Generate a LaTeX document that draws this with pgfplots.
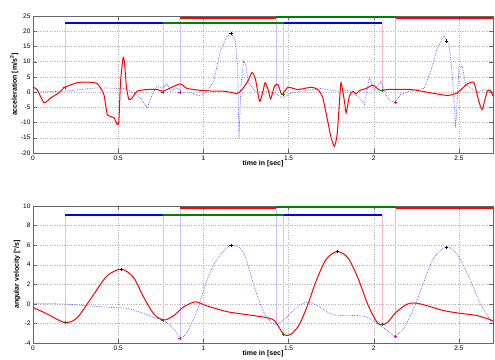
\documentclass[border=0pt]{standalone}
\usepackage{pgfplots}
\pgfplotsset{compat=1.18}
\usepackage{fontspec}
\setmainfont{Liberation Sans}
\definecolor{pinkv}{RGB}{255,180,215}
\definecolor{lavv}{RGB}{205,190,255}
\definecolor{blued}{RGB}{90,90,255}
\definecolor{gr}{RGB}{0,128,0}
\pgfplotsset{
  myax/.style={
    scale only axis, width=460pt, height=137pt,
    xmin=0, xmax=2.7,
    xtick={0,0.5,1,1.5,2,2.5},
    grid=major,
    major grid style={gray!60, dotted},
    axis line style={gray!80!black},
    tick style={gray!80!black},
    tick align=inside,
    ticklabel style={font=\fontsize{6.5}{7}\selectfont},
    /pgf/number format/assume math mode=true,
    xlabel={\textbf{time in [sec]}},
    xlabel style={font=\fontsize{7}{8}\selectfont, yshift=7pt},
    ylabel style={font=\fontsize{7}{8}\selectfont, yshift=-4pt},
    yticklabel style={xshift=1pt},
    xticklabel style={yshift=1pt},
    clip=false,
  },
  redc/.style={red, line width=1pt},
  bluec/.style={blued, densely dotted, line width=0.7pt},
  bar/.style={line width=2pt},
  vl/.style={line width=0.5pt},
}
\begin{document}
\begin{tikzpicture}[x=1pt,y=1pt]
\useasboundingbox (-33,-16) rectangle (462,343);
% ---------- top axis ----------
\begin{axis}[myax, at={(0pt,190pt)}, anchor=south west,
  ymin=-20, ymax=25, ytick={-20,-15,...,25},
  ylabel={\textbf{acceleration [m/s$^{\mathbf{2}}$]}}]
\addplot[vl, pinkv] coordinates {(0.187,1.6)(0.187,22.8)};
\addplot[vl, pinkv] coordinates {(0.762,0)(0.762,22.8)};
\addplot[vl, lavv] coordinates {(0.862,0)(0.862,24.4)};
\addplot[vl, lavv] coordinates {(1.428,0.5)(1.428,24.8)};
\addplot[vl, pinkv] coordinates {(1.471,-0.6)(1.471,22.6)};
\addplot[vl, pinkv] coordinates {(2.048,0.6)(2.048,22.8)};
\addplot[vl, lavv] coordinates {(2.128,-3.3)(2.128,24.4)};
\addplot[bluec] coordinates {(0,0)(0.18,0.3)(0.377,1.4)(0.533,1.2)(0.592,-0.2)(0.631,-1.9)(0.67,-5.2)(0.7,-0.8)(0.729,2)(0.758,1.2)(0.787,2.7)(0.807,0.3)(0.846,1.4)(0.875,0)(0.924,0)(0.973,-1.3)(1.021,0)(1.06,3.6)(1.1,13.5)(1.139,18.4)(1.168,19)(1.187,16.8)(1.201,8)(1.209,-15)(1.221,2.5)(1.236,10.2)(1.25,9)(1.262,3.6)(1.301,0.3)(1.36,0.3)(1.418,-0.25)(1.467,-1.9)(1.516,-0.25)(1.594,0.5)(1.691,1.2)(1.789,0.3)(1.847,0.5)(1.906,-1.3)(1.945,-4)(1.974,4.7)(2.003,0.5)(2.042,3.6)(2.071,-0.8)(2.1,-3)(2.124,-3.3)(2.159,-0.8)(2.218,0.5)(2.296,1.2)(2.335,6.9)(2.374,14.6)(2.413,18.4)(2.442,15.7)(2.461,5.8)(2.481,-11.8)(2.5,8)(2.52,8.5)(2.539,2.5)(2.568,1.4)(2.607,-0.25)(2.646,0.85)(2.7,0)};
\addplot[redc, smooth, tension=0.35] coordinates {(0,1.6)(0.025,0.8)(0.064,-3.5)(0.104,-1.9)(0.152,-0.25)(0.187,1.6)(0.26,3.1)(0.318,3.3)(0.377,2.8)(0.416,-0.8)(0.436,-7.3)(0.475,-8.4)(0.494,-10.6)(0.504,-9.5)(0.514,3.6)(0.529,11.3)(0.537,9.6)(0.549,1.4)(0.563,-2.4)(0.582,-1.9)(0.611,0.3)(0.67,0.85)(0.729,0.85)(0.764,0.3)(0.807,1.4)(0.865,2.7)(0.904,1.2)(0.982,0.6)(1.06,0.3)(1.119,0.3)(1.178,-0.25)(1.197,-0.6)(1.227,0.85)(1.26,3.5)(1.285,6.4)(1.305,4.5)(1.33,-3)(1.35,0.3)(1.362,3.1)(1.38,0.85)(1.395,-2.2)(1.418,2)(1.438,2.5)(1.461,-0.8)(1.496,1.6)(1.555,0.85)(1.633,1.6)(1.672,0.85)(1.701,-1.9)(1.73,-9.6)(1.75,-15)(1.769,-17.8)(1.785,-14)(1.799,-3)(1.808,3.1)(1.828,-3)(1.838,-6.8)(1.857,-1.3)(1.877,0.3)(1.896,-0.6)(1.916,0.5)(1.955,1.2)(1.994,2.3)(2.023,1.1)(2.042,0.5)(2.081,0.85)(2.218,0.85)(2.335,-0.25)(2.432,-1.1)(2.49,-0.25)(2.549,2.7)(2.588,3.1)(2.617,-3)(2.637,-5.7)(2.666,0.3)(2.685,0.5)(2.7,-1.3)};
\addplot[bar, blue] coordinates {(0.187,22.8)(0.762,22.8)};
\addplot[bar, gr] coordinates {(0.762,22.6)(1.471,22.6)};
\addplot[bar, blue] coordinates {(1.471,22.8)(2.048,22.8)};
\addplot[bar, red] coordinates {(0.862,24.4)(1.428,24.4)};
\addplot[bar, gr] coordinates {(1.428,24.8)(2.128,24.8)};
\addplot[bar, red] coordinates {(2.128,24.4)(2.7,24.4)};
\addplot[only marks, mark=+, mark size=1.6pt, gr] coordinates {(0.187,1.6)(0.762,0)(1.471,-0.6)(2.048,0.6)};
\addplot[only marks, mark=+, mark size=1.6pt, magenta] coordinates {(0.862,0)(2.128,-3.3)};
\addplot[only marks, mark=+, mark size=1.6pt, black] coordinates {(1.162,19.2)(2.428,16.8)};
\end{axis}
% ---------- bottom axis ----------
\begin{axis}[myax, at={(0pt,0pt)}, anchor=south west,
  ymin=-4, ymax=10, ytick={-4,-2,...,10},
  ylabel={\textbf{angular velocity [°/s]}}]
\addplot[vl, pinkv] coordinates {(0.187,-1.9)(0.187,9.08)};
\addplot[vl, pinkv] coordinates {(0.762,-1.7)(0.762,9.08)};
\addplot[vl, lavv] coordinates {(0.862,-3.5)(0.862,9.83)};
\addplot[vl, lavv] coordinates {(1.428,-2.2)(1.428,9.93)};
\addplot[vl, pinkv] coordinates {(1.471,-3.1)(1.471,9.08)};
\addplot[vl, pinkv] coordinates {(2.048,-2.1)(2.048,9.08)};
\addplot[vl, lavv] coordinates {(2.128,-3.3)(2.128,9.83)};
\addplot[bluec, smooth] coordinates {(0,0.03)(0.187,-0.02)(0.318,-0.2)(0.455,-0.36)(0.553,-0.47)(0.631,-0.87)(0.709,-1.38)(0.768,-1.72)(0.826,-2.57)(0.865,-3.45)(0.904,-2.9)(0.963,-0.7)(1.02,2.35)(1.08,4.56)(1.162,5.99)(1.236,5.24)(1.3,1.68)(1.36,-1.04)(1.418,-2.13)(1.477,-1.55)(1.535,-0.53)(1.603,0.15)(1.672,-0.19)(1.75,-1.04)(1.828,-1.2)(1.906,-1.2)(1.964,-1.38)(2.023,-2.06)(2.081,-2.74)(2.124,-3.25)(2.179,-2.4)(2.237,-0.36)(2.296,2.35)(2.354,4.73)(2.426,5.82)(2.49,5.07)(2.569,2.35)(2.627,-0.02)(2.7,-2.1)};
\addplot[redc, smooth] coordinates {(0,-0.36)(0.084,-1.04)(0.187,-1.9)(0.26,-1.4)(0.357,0.99)(0.435,2.86)(0.518,3.54)(0.59,2.7)(0.65,0.66)(0.71,-1.04)(0.768,-1.65)(0.826,-1.2)(0.885,-0.3)(0.953,0.2)(1.02,-0.2)(1.14,-0.8)(1.275,-1.15)(1.36,-1.38)(1.418,-1.72)(1.473,-3.15)(1.516,-3.08)(1.565,-2.06)(1.614,-0.02)(1.662,2.35)(1.721,4.56)(1.785,5.34)(1.847,4.73)(1.906,2.69)(1.964,-0.02)(2.013,-1.72)(2.042,-2.13)(2.081,-1.9)(2.13,-0.87)(2.198,-0.02)(2.247,0.08)(2.315,-0.2)(2.413,-0.7)(2.51,-0.97)(2.607,-1.2)(2.7,-1.72)};
\addplot[bar, blue] coordinates {(0.187,9.08)(0.762,9.08)};
\addplot[bar, gr] coordinates {(0.762,9.05)(1.471,9.05)};
\addplot[bar, blue] coordinates {(1.471,9.08)(2.048,9.08)};
\addplot[bar, red] coordinates {(0.862,9.83)(1.428,9.83)};
\addplot[bar, gr] coordinates {(1.428,9.93)(2.128,9.93)};
\addplot[bar, red] coordinates {(2.128,9.83)(2.7,9.83)};
\addplot[only marks, mark=+, mark size=1.6pt, gr] coordinates {(0.187,-1.9)(0.762,-1.7)(1.471,-3.1)(2.048,-2.1)};
\addplot[only marks, mark=+, mark size=1.6pt, magenta] coordinates {(0.862,-3.5)(2.128,-3.3)};
\addplot[only marks, mark=+, mark size=1.6pt, black] coordinates {(0.518,3.5)(1.162,6)(1.785,5.35)(2.428,5.8)};
\end{axis}
\end{tikzpicture}
\end{document}
